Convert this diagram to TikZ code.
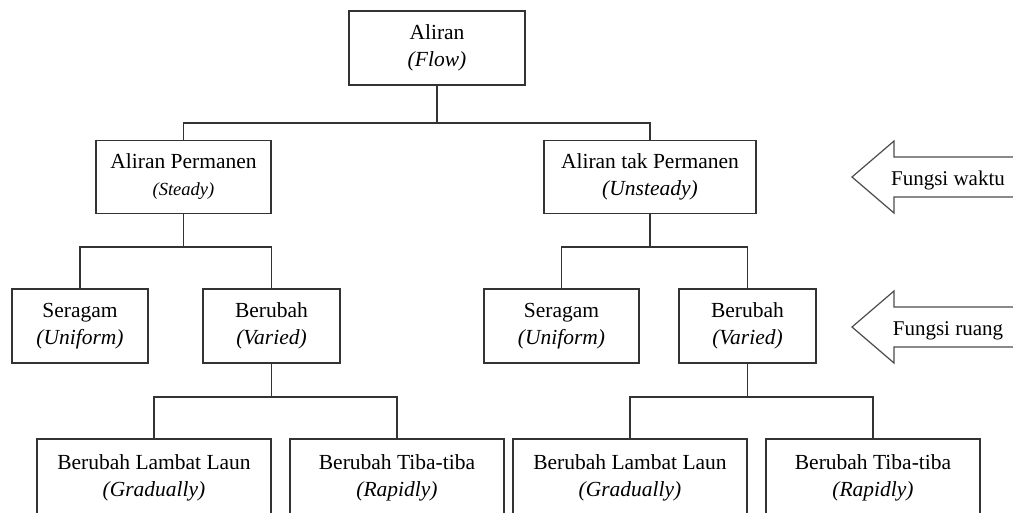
\documentclass[tikz,border=0pt]{standalone}
\usepackage{fontspec}
\setmainfont{Liberation Serif}

\tikzset{
  kotak/.style={draw=black!80, line width=1.3pt, fill=white, inner sep=0pt,
    minimum height=74, align=center, font=\fontsize{21.5}{27}\selectfont},
  garis/.style={draw=black!80, line width=1.3pt},
  panah/.style={draw=black!70, line width=1.2pt, fill=white, line join=miter},
}

\begin{document}
\begin{tikzpicture}[x=1pt,y=-1pt]
    \clip (0,0) rectangle (1013,512);

    % akar
    \node[kotak, minimum width=176] (aliran) at (437,48) {Aliran\\\textit{(Flow)}};

    % fungsi waktu
    \node[kotak, minimum width=175, minimum height=73] (permanen) at (183.5,177)
        {Aliran Permanen\\{\fontsize{18.5}{27}\selectfont\textit{(Steady)}}};
    \node[kotak, minimum width=212, minimum height=73] (takpermanen) at (650,177)
        {Aliran tak Permanen\\\textit{(Unsteady)}};

    % fungsi ruang
    \node[kotak, minimum width=136] (seragamA) at (80,326) {Seragam\\\textit{(Uniform)}};
    \node[kotak, minimum width=137] (berubahA) at (271.5,326) {Berubah\\\textit{(Varied)}};
    \node[kotak, minimum width=155] (seragamB) at (561.5,326) {Seragam\\\textit{(Uniform)}};
    \node[kotak, minimum width=137] (berubahB) at (747.5,326) {Berubah\\\textit{(Varied)}};

    % aliran berubah (tepi bawah terpotong)
    \node[kotak, minimum width=234, minimum height=78] (lambatA) at (154,478) {Berubah Lambat Laun\\\textit{(Gradually)}};
    \node[kotak, minimum width=214, minimum height=78] (tibaA) at (397,478) {Berubah Tiba-tiba\\\textit{(Rapidly)}};
    \node[kotak, minimum width=234, minimum height=78] (lambatB) at (630,478) {Berubah Lambat Laun\\\textit{(Gradually)}};
    \node[kotak, minimum width=214, minimum height=78] (tibaB) at (873,478) {Berubah Tiba-tiba\\\textit{(Rapidly)}};

    % garis penghubung
    \coordinate (bus1) at (0,123);
    \coordinate (bus2) at (0,247);
    \coordinate (bus3) at (0,397);

    \draw[garis] (aliran.south) -- (aliran.south |- bus1);
    \draw[garis] (permanen.north) |- (takpermanen.north |- bus1) -- (takpermanen.north);

    \draw[garis] (permanen.south) -- (permanen.south |- bus2);
    \draw[garis] (seragamA.north) |- (berubahA.north |- bus2) -- (berubahA.north);
    \draw[garis] (takpermanen.south) -- (takpermanen.south |- bus2);
    \draw[garis] (seragamB.north) |- (berubahB.north |- bus2) -- (berubahB.north);

    \draw[garis] (berubahA.south) -- (berubahA.south |- bus3);
    \draw[garis] (lambatA.north) |- (tibaA.north |- bus3) -- (tibaA.north);
    \draw[garis] (berubahB.south) -- (berubahB.south |- bus3);
    \draw[garis] (lambatB.north) |- (tibaB.north |- bus3) -- (tibaB.north);

    % panah keterangan
    \draw[panah] (1020,157) -- (894,157) -- (894,141) -- (852,177)
        -- (894,213) -- (894,197) -- (1020,197);
    \node[anchor=base, font=\fontsize{21}{27}\selectfont] (waktu) at (948,185) {Fungsi waktu};

    \draw[panah] (1020,307) -- (894,307) -- (894,291) -- (852,327)
        -- (894,363) -- (894,347) -- (1020,347);
    \node[anchor=base, font=\fontsize{21}{27}\selectfont] (ruang) at (948,335) {Fungsi ruang};
\end{tikzpicture}
\end{document}
